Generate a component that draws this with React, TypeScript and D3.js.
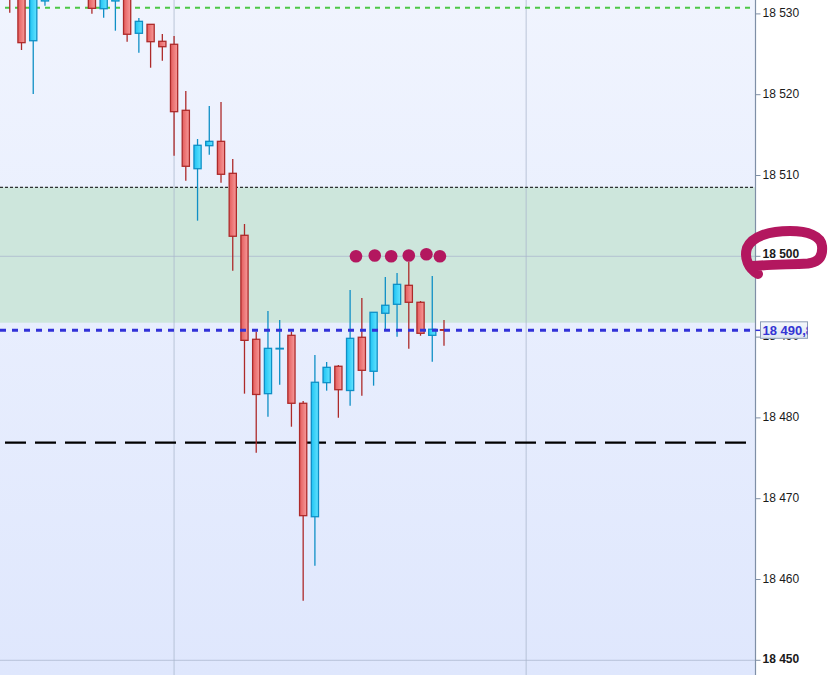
import React from "react";
import * as d3 from "d3";

// ---- data (slot index starts at -1) ----
const firstSlot = -1;
const opens: (number | null)[] = [
  18533.5, 18533.0, 18526.68, 18531.6, null, null, null, 18533.0, 18530.64, 18531.6, 18533.0,
  18527.6, 18528.71, 18526.61, 18526.24, 18518.07, 18510.84, 18513.69, 18514.23, 18510.27,
  18502.6, 18489.73, 18483.0, 18488.55, 18490.22, 18481.81, 18467.77, 18484.36, 18486.39,
  18483.39, 18489.98, 18485.77, 18492.95, 18494.06, 18496.41, 18494.31, 18490.22, 18490.92,
];
const highs: (number | null)[] = [
  18534.5, 18534.0, 18534.0, 18535.5, null, null, null, 18534.0, 18533.5, 18534.0, 18534.0,
  18529.49, 18528.71, 18527.51, 18527.26, 18520.46, 18514.52, 18518.6, 18519.1, 18512.04,
  18504.0, 18490.67, 18493.23, 18492.12, 18490.67, 18482.09, 18487.78, 18486.92, 18486.55,
  18495.83, 18494.84, 18493.07, 18497.44, 18497.93, 18499.29, 18494.47, 18497.56, 18492.12,
];
const lows: (number | null)[] = [
  18530.15, 18525.53, 18520.09, 18531.0, null, null, null, 18530.02, 18529.53, 18527.92, 18526.56,
  18525.2, 18523.34, 18524.21, 18512.45, 18509.36, 18504.41, 18512.57, 18509.11, 18498.22,
  18483.0, 18475.69, 18480.15, 18484.11, 18478.91, 18457.38, 18461.71, 18483.37, 18480.02,
  18481.51, 18482.75, 18483.99, 18490.88, 18490.05, 18488.56, 18490.17, 18486.96, 18488.94,
];
const closes: (number | null)[] = [
  18532.2, 18526.44, 18532.5, 18535.0, null, null, null, 18530.69, 18533.0, 18533.5, 18527.48,
  18529.08, 18526.56, 18525.94, 18517.9, 18511.14, 18513.74, 18514.23, 18510.15, 18502.48,
  18489.6, 18482.9, 18488.61, 18488.61, 18481.81, 18467.9, 18484.41, 18486.26, 18483.49,
  18489.85, 18485.89, 18493.07, 18493.94, 18496.53, 18494.31, 18490.47, 18490.97, 18490.92,
];
// bullish flags for doji candles
const dojiBull = { 22: true, 36: false } as Record<number, boolean>;

const priceTicks = [18450, 18460, 18470, 18480, 18490, 18500, 18510, 18520, 18530];
const boldTicks = [18450, 18500];
const gridPrices = [18450, 18500];
const gridSlots = [13, 43];

const zoneTop = 18508.54;
const zoneBottom = 18491.78;
const greenLevel = 18530.77;
const blueLevel = 18490.84;
const blueLabel = "18 490,84";
const blackLevel = 18476.93;
const dotSlots = [28.5, 30.1, 31.5, 33.0, 34.5, 35.65];
const dotPrices = [18500.0, 18500.1, 18500.0, 18500.1, 18500.25, 18500.0];

const W = 830;
const H = 675;
const plotRight = 755.5;

const fmt = (v: number) => {
  const s = String(v);
  return s.slice(0, 2) + " " + s.slice(2);
};

export default function App() {
  const x = d3.scaleLinear().domain([0, 36]).range([21.5, 444]);
  const y = d3.scaleLinear().domain([18450, 18500]).range([660.3, 256.3]);
  const bodyW = 7.2;

  const candles = opens
    .map((o, k) => ({
      i: k + firstSlot,
      o,
      h: highs[k],
      l: lows[k],
      c: closes[k],
    }))
    .filter((d) => d.o !== null) as { i: number; o: number; h: number; l: number; c: number }[];

  const font = "'Liberation Sans', Arial, sans-serif";

  return (
    <svg
      width={W}
      height={H}
      style={{ position: "absolute", left: 0, top: 0, display: "block" }}
    >
      <defs>
        <linearGradient id="bg" x1="0" y1="0" x2="0" y2="1">
          <stop offset="0" stopColor="#f0f4fe" />
          <stop offset="1" stopColor="#dfe7fd" />
        </linearGradient>
        <linearGradient id="redF" x1="0" y1="0" x2="1" y2="0">
          <stop offset="0" stopColor="#e45c5c" />
          <stop offset="1" stopColor="#f79a9a" />
        </linearGradient>
        <linearGradient id="blueF" x1="0" y1="0" x2="1" y2="0">
          <stop offset="0" stopColor="#1fc3f3" />
          <stop offset="1" stopColor="#63e3ff" />
        </linearGradient>
        <linearGradient id="boxF" x1="0" y1="0" x2="0" y2="1">
          <stop offset="0" stopColor="#f4f7fc" />
          <stop offset="1" stopColor="#dde5f1" />
        </linearGradient>
        <clipPath id="boxClip">
          <rect x={760.5} y={y(blueLevel) - 8.5} width={47} height={16.5} />
        </clipPath>
        <clipPath id="plotClip">
          <rect x={0} y={0} width={plotRight} height={H} />
        </clipPath>
      </defs>

      <rect x={0} y={0} width={W} height={H} fill="#ffffff" />
      <rect x={0} y={0} width={plotRight} height={H} fill="url(#bg)" />

      {/* green zone */}
      <rect
        x={0}
        y={y(zoneTop)}
        width={plotRight}
        height={y(zoneBottom) - y(zoneTop)}
        fill="#cde6dc"
      />

      {/* grid */}
      {gridPrices.map((p) => (
        <line key={p} x1={0} x2={plotRight} y1={y(p)} y2={y(p)} stroke="#a9b6cc" strokeOpacity={0.75} strokeWidth={1} />
      ))}
      {gridSlots.map((s) => (
        <line key={s} x1={x(s)} x2={x(s)} y1={0} y2={H} stroke="#a9b6cc" strokeOpacity={0.75} strokeWidth={1} />
      ))}

      {/* level lines */}
      <line x1={0} x2={plotRight} y1={y(zoneTop)} y2={y(zoneTop)} stroke="#000" strokeWidth={1} strokeDasharray="3,2" />
      <line x1={5} x2={plotRight} y1={y(greenLevel)} y2={y(greenLevel)} stroke="#4cc847" strokeWidth={2} strokeDasharray="5,5" />
      <line x1={5} x2={746} y1={y(blackLevel)} y2={y(blackLevel)} stroke="#000" strokeWidth={2.3} strokeDasharray="21,9" />

      {/* candles */}
      <g clipPath="url(#plotClip)">
        {candles.map((d) => {
          const bull = d.c > d.o || (d.c === d.o && dojiBull[d.i]);
          const stroke = bull ? "#0f8fc6" : "#ad2a2a";
          const cx = x(d.i);
          const top = y(Math.max(d.o, d.c));
          const bot = y(Math.min(d.o, d.c));
          return (
            <g key={d.i}>
              <line x1={cx} x2={cx} y1={y(d.h)} y2={y(d.l)} stroke={stroke} strokeWidth={1.3} />
              <rect
                x={cx - bodyW / 2}
                y={top}
                width={bodyW}
                height={Math.max(bot - top, 0.6)}
                fill={bull ? "url(#blueF)" : "url(#redF)"}
                stroke={stroke}
                strokeWidth={1.3}
              />
            </g>
          );
        })}
      </g>

      {/* blue dashed level */}
      <line x1={0} x2={plotRight} y1={y(blueLevel)} y2={y(blueLevel)} stroke="#3232d8" strokeWidth={3} strokeDasharray="6,6" />

      {/* magenta dots */}
      {dotSlots.map((s, k) => (
        <circle key={k} cx={x(s)} cy={y(dotPrices[k])} r={6.3} fill="#b3175f" />
      ))}

      {/* axis */}
      <line x1={plotRight} x2={plotRight} y1={0} y2={H} stroke="#7f8fa6" strokeWidth={1.2} />

      {/* hand-drawn loop around 18 500 */}
      <path
        d="M 758 274 C 748 268, 744 258, 747 248 C 752 236, 770 231, 790 231 C 808 231, 821 236, 822 246 C 823 256, 819 262, 808 263.5 C 785 264.5, 765 265, 752 266"
        fill="none"
        stroke="#b3175f"
        strokeWidth={10}
        strokeLinecap="round"
        strokeLinejoin="round"
      />

      {priceTicks.map((p) => (
        <g key={p}>
          <line x1={plotRight} x2={plotRight + 5} y1={y(p)} y2={y(p)} stroke="#7f8fa6" strokeWidth={1} />
          <text
            x={762.5}
            y={y(p)}
            dy={p === 18500 ? "0.12em" : "0.25em"}
            fontFamily={font}
            fontSize={12}
            fontWeight={boldTicks.includes(p) ? "bold" : "normal"}
            fill="#1a1a1a"
          >
            {fmt(p)}
          </text>
        </g>
      ))}

      {/* blue level label box */}
      <line x1={plotRight} x2={760.5} y1={y(blueLevel)} y2={y(blueLevel)} stroke="#3232d8" strokeWidth={1.5} />
      <rect
        x={760.5}
        y={y(blueLevel) - 8.5}
        width={47}
        height={16.5}
        fill="url(#boxF)"
        stroke="#8c9cb6"
        strokeWidth={1}
      />
      <g clipPath="url(#boxClip)">
        <text
          x={762.5}
          y={y(blueLevel)}
          dy="0.36em"
          fontFamily={font}
          fontSize={13}
          fontWeight="bold"
          fill="#3434d4"
        >
          {blueLabel}
        </text>
      </g>
    </svg>
  );
}
